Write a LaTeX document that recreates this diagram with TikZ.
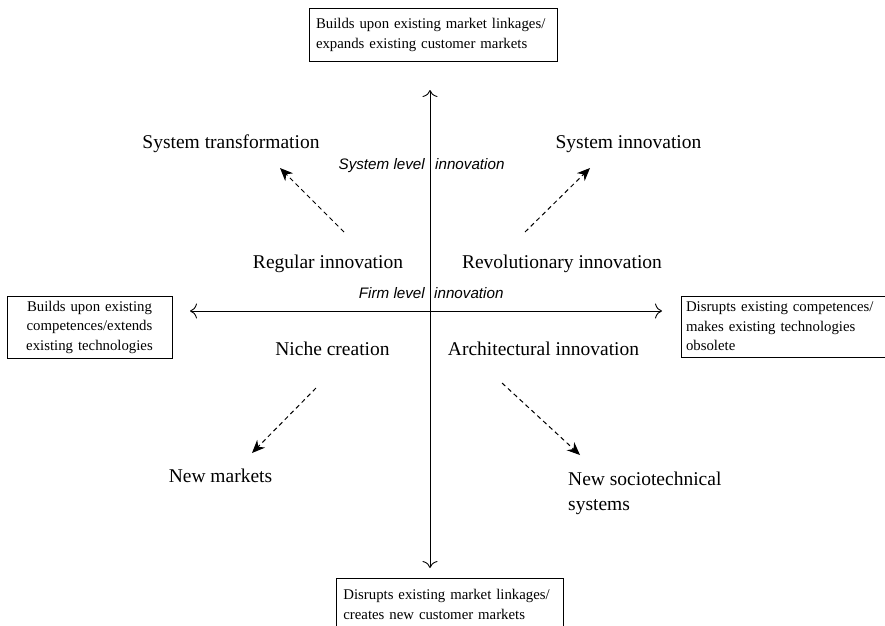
\documentclass[tikz,border=0pt]{standalone}
\usepackage{fontspec}
\setmainfont{Liberation Serif}
\setsansfont{Liberation Sans}
\usetikzlibrary{arrows.meta}
\begin{document}
\begin{tikzpicture}[x=1pt,y=-1pt,
  quad/.style={font=\fontsize{19.5}{25}\selectfont, inner sep=0pt, anchor=base},
  level/.style={font=\sffamily\itshape\fontsize{15.2}{18}\selectfont, inner sep=0pt},
  effect/.style={draw, line width=0.8pt, font=\fontsize{14.8}{19.5}\selectfont,
    inner ysep=0pt},
  axis/.style={line width=0.9pt, {To[length=7pt,width=15pt]}-{To[length=7pt,width=15pt]}},
  movearrow/.style={line width=1pt, dash pattern=on 4.5pt off 3.5pt,
    -{Stealth[length=13pt,width=11pt]}}]
\useasboundingbox (0,0) rectangle (885,625);

% outer poles of the two dimensions
\node[effect, inner xsep=7pt, minimum width=248pt, minimum height=53pt, text width=234pt, align=left]
  (top) at (433,35) {Builds upon existing market linkages/\\expands existing customer markets};
\node[effect, inner xsep=4pt, minimum width=165pt, minimum height=62pt, text width=157pt, align=center]
  (left) at (89.5,327) {Builds upon existing\\competences/extends\\existing technologies};
\node[effect, inner xsep=5pt, minimum width=214pt, minimum height=61pt, text width=204pt, align=left]
  (right) at (788,326.5) {Disrupts existing competences/\\makes existing technologies\\obsolete};
\node[effect, inner xsep=7pt, minimum width=227pt, minimum height=51pt, text width=213pt, align=left, anchor=north west]
  (bottom) at (336,578) {\rule{0pt}{11pt}Disrupts existing market linkages/\\creates new customer markets};

% axes
\coordinate (vtop) at (430,90);
\coordinate (vbot) at (430,568);
\coordinate (hleft) at (190,311);
\coordinate (hright) at (662,311);
\draw[axis] (vbot) -- (vtop);
\draw[axis] (hleft) -- (hright);

% level labels
\node[level, anchor=base east] (syslvl) at (425,169) {System level};
\node[level, anchor=base west] (sysinn) at (435,169) {innovation};
\node[level, anchor=base east] (firmlvl) at (425,298) {Firm level};
\node[level, anchor=base west] (firminn) at (434,298) {innovation};

% quadrants
\node[quad] (sysTrans) at (231,148) {System transformation};
\node[quad] (sysInno) at (628.5,148) {System innovation};
\node[quad] (regular) at (328,268) {Regular innovation};
\node[quad] (revol) at (562,268) {Revolutionary innovation};
\node[quad] (niche) at (332.5,355) {Niche creation};
\node[quad] (arch) at (543.5,355) {Architectural innovation};
\node[quad] (newMkt) at (220.5,482) {New markets};
\node[quad, align=left, anchor=base west] (newSys) at (568,510) {New sociotechnical\\systems};

% shifts between quadrants
\coordinate (a1s) at (344,232); \coordinate (a1e) at (280,168);
\coordinate (a2s) at (525,232); \coordinate (a2e) at (590,168);
\coordinate (a3s) at (316,388); \coordinate (a3e) at (252,453);
\coordinate (a4s) at (502,383); \coordinate (a4e) at (580,455);
\draw[movearrow] (a1s) -- (a1e);
\draw[movearrow] (a2s) -- (a2e);
\draw[movearrow] (a3s) -- (a3e);
\draw[movearrow] (a4s) -- (a4e);
\end{tikzpicture}
\end{document}
